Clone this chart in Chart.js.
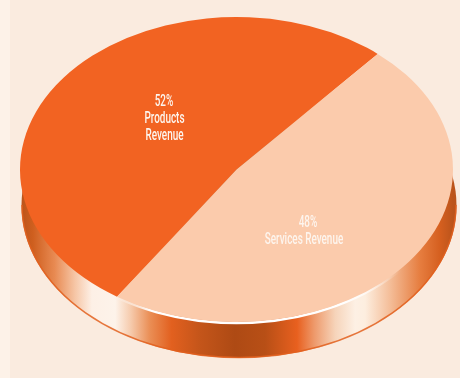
<!DOCTYPE html>
<html>
<head>
<meta charset="utf-8">
<title>Revenue split</title>
<script src="https://cdn.jsdelivr.net/npm/chart.js@4/dist/chart.umd.min.js"></script>
<style>
  html, body { margin: 0; height: 100%; overflow: hidden; }
  body { background: linear-gradient(to right, #fdf2e8 10px, #faebdf 10px); }
  #wrap { position: absolute; left: 0; top: 0; width: 460px; height: 378px; }
</style>
</head>
<body>
<div id="wrap"><canvas id="revenueChart"></canvas></div>
<script>
/* Revenue split pie, tilted into a disc with a shiny metal rim */

const categories = ['Products Revenue', 'Services Revenue'];
const shares = [52, 48];
const sliceColors = ['#f26322', '#fbcbac'];

// text lines per slice, the share goes on its own line above them
const labelLines = [['Products', 'Revenue'], ['Services Revenue']];
const shareSpots = [[164, 102], [308, 223]];
const textSpots = [[164.5, 119], [304, 240]];
const LINE_HEIGHT = 16.5;
const TEXT_SQUEEZE = 0.62;

// disc geometry on the page, the rim ellipse sits a little right of the face
const DISC = { x: 236.5, y: 169.5, rx: 216.5, ry: 152.5, rimX: 239, rimRx: 217.5, depth: 36 };

const RIM_STOPS = [
  [0, '#b9521a'], [0.03, '#cf5f1f'], [0.08, '#e88a52'], [0.127, '#f6c6a6'],
  [0.166, '#fdf0e6'], [0.22, '#fdf3ea'], [0.254, '#f6cdb0'], [0.3, '#ea8e55'],
  [0.35, '#e2601f'], [0.416, '#c4551a'], [0.496, '#ae4a14'], [0.566, '#b84f16'],
  [0.64, '#e8601f'], [0.68, '#ee9a6c'], [0.728, '#f6d4ba'], [0.774, '#fdf0e4'],
  [0.797, '#fdeedf'], [0.855, '#f4bd98'], [0.924, '#e67d3f'], [0.97, '#d55f1f'],
  [1, '#bb541b'],
];

const discPlugin = {
  id: 'disc',
  beforeDatasetsDraw(chart) {
    const { ctx } = chart;
    const { x, y, rx, ry, rimX, rimRx, depth } = DISC;
    const left = x - rx;
    const width = rx * 2;

    // rim: a whole ellipse pushed down by the depth, the top face hides its upper part
    const rim = ctx.createLinearGradient(left, 0, left + width, 0);
    RIM_STOPS.forEach(([at, color]) => rim.addColorStop(at, color));
    ctx.save();
    ctx.beginPath();
    ctx.ellipse(rimX, y + depth, rimRx, ry, 0, 0, Math.PI * 2);
    ctx.fillStyle = rim;
    ctx.fill();

    // darker line on the lower edge
    ctx.beginPath();
    ctx.ellipse(rimX, y + depth - 0.5, rimRx - 0.5, ry, 0, 0, Math.PI);
    ctx.strokeStyle = 'rgba(226,96,31,0.85)';
    ctx.lineWidth = 1.5;
    ctx.stroke();

    // white gleam just under the top face
    const gleam = ctx.createLinearGradient(left, 0, left + width, 0);
    gleam.addColorStop(0.22, 'rgba(255,255,255,0)');
    gleam.addColorStop(0.3, 'rgba(255,255,255,1)');
    gleam.addColorStop(0.75, 'rgba(255,255,255,1)');
    gleam.addColorStop(0.88, 'rgba(255,255,255,0)');
    ctx.beginPath();
    ctx.ellipse(x, y + 1, rx, ry, 0, 0, Math.PI);
    ctx.strokeStyle = gleam;
    ctx.lineWidth = 2.5;
    ctx.stroke();
    ctx.restore();

    // squash the round pie onto the top face
    const arc = chart.getDatasetMeta(0).data[0];
    const r = arc.outerRadius;
    ctx.save();
    ctx.translate(x, y);
    ctx.scale(rx / r, ry / r);
    ctx.translate(-arc.x, -arc.y);
  },
  afterDatasetsDraw(chart) {
    const { ctx } = chart;
    ctx.restore();

    const drawLine = (text, lx, ly) => {
      ctx.save();
      ctx.translate(lx, ly);
      ctx.scale(TEXT_SQUEEZE, 1);
      ctx.fillText(text, 0, 0);
      ctx.restore();
    };

    ctx.save();
    ctx.fillStyle = '#fdf5ee';
    ctx.font = '500 16px Roboto, sans-serif';
    ctx.textAlign = 'center';
    ctx.textBaseline = 'middle';
    shares.forEach((share, i) => {
      drawLine(share + '%', shareSpots[i][0], shareSpots[i][1]);
      labelLines[i].forEach((line, n) => {
        drawLine(line, textSpots[i][0], textSpots[i][1] + n * LINE_HEIGHT);
      });
    });
    ctx.restore();
  },
};

new Chart(document.getElementById('revenueChart'), {
  type: 'pie',
  data: {
    labels: categories,
    datasets: [{ data: shares, backgroundColor: sliceColors, borderWidth: 0 }],
  },
  options: {
    responsive: true,
    maintainAspectRatio: false,
    animation: false,
    rotation: 213.5,
    layout: { padding: 0 },
    plugins: { legend: { display: false }, tooltip: { enabled: false } },
  },
  plugins: [discPlugin],
});
</script>
</body>
</html>
